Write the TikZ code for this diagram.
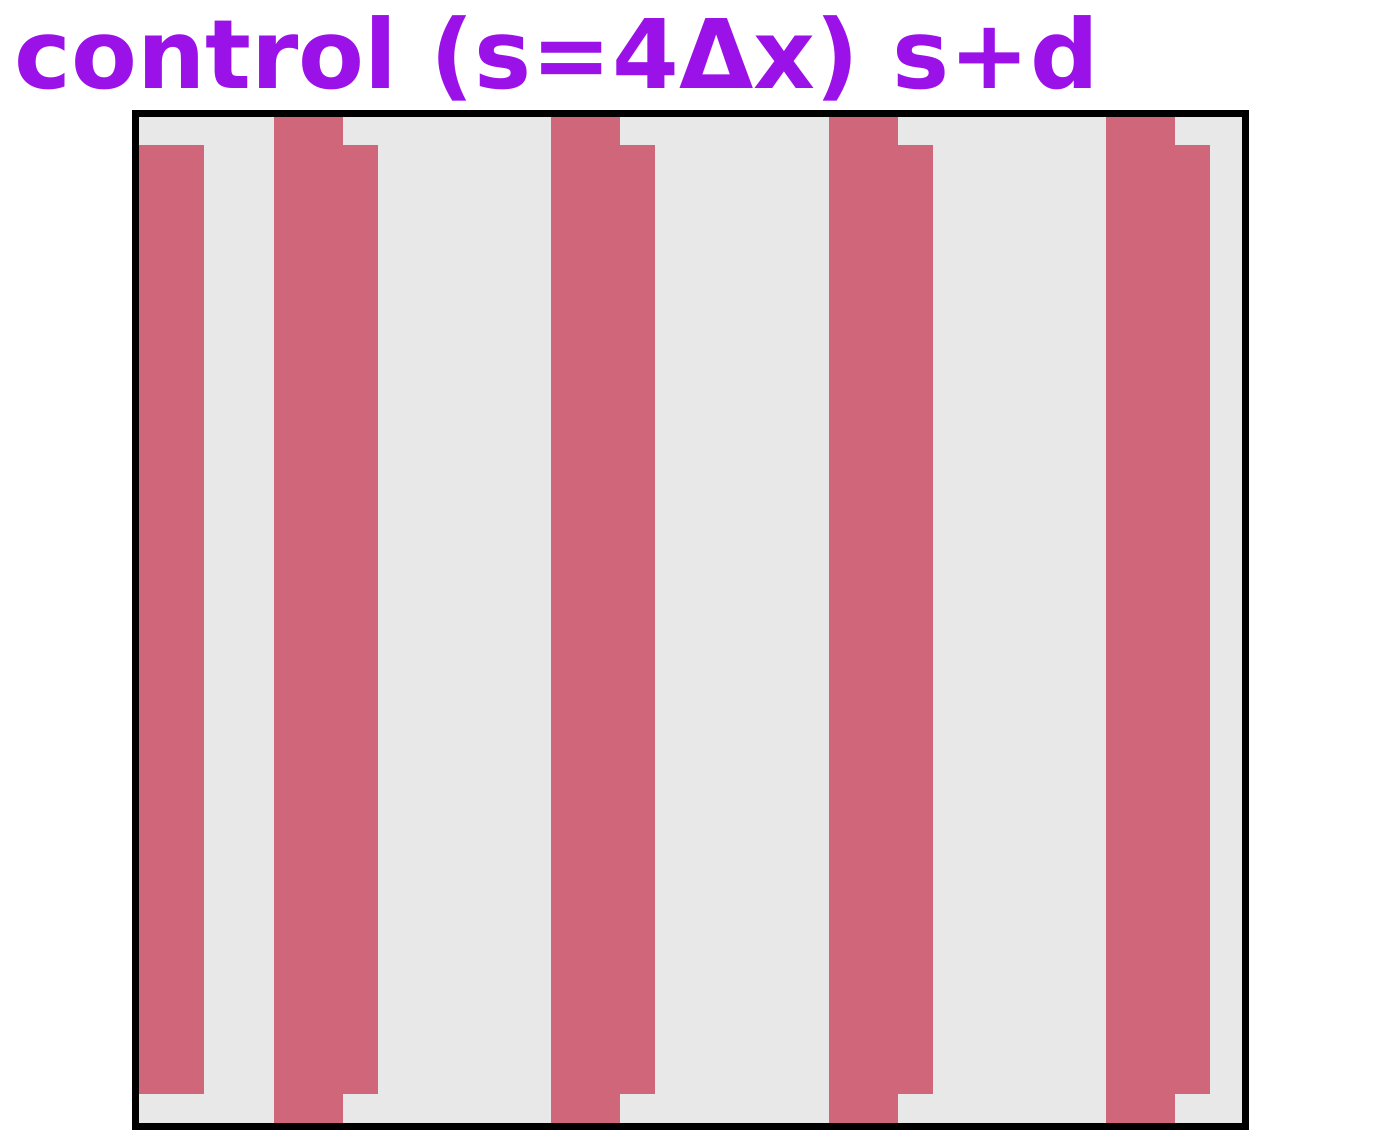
\documentclass[tikz,border=0pt]{standalone}
\usepackage{fontspec}
\setmainfont{DejaVu Sans}
\definecolor{stripe}{RGB}{208,102,121}
\definecolor{bgfill}{RGB}{232,232,232}
\definecolor{titlecol}{RGB}{155,18,232}
\begin{document}
\begin{tikzpicture}[x=1pt,y=-1pt,
  full/.style={fill=stripe},
  part/.style={fill=stripe}]
\useasboundingbox (0,0) rectangle (1379,1141);
\fill[bgfill] (135,113) rectangle (1245,1126);
% left partial stripe
\fill[part] (135,145) rectangle (204,1094);
\foreach \a/\b/\c in {274/343/378, 551/620/655, 829/898/933, 1106/1175/1210}{
  \fill[full] (\a,113) rectangle (\b,1126);
  \fill[part] (\b,145) rectangle (\c,1094);
}
\node[draw=black, line width=7pt, outer sep=0pt, minimum width=1110pt, minimum height=1013pt, inner sep=0pt, anchor=north west] (box) at (135,113) {};
\node[anchor=base west, inner sep=0pt, text=titlecol, font=\fontsize{96}{100}\selectfont\bfseries] (title) at (14,88) {control (s=4Δx) s+d};
\end{tikzpicture}
\end{document}
